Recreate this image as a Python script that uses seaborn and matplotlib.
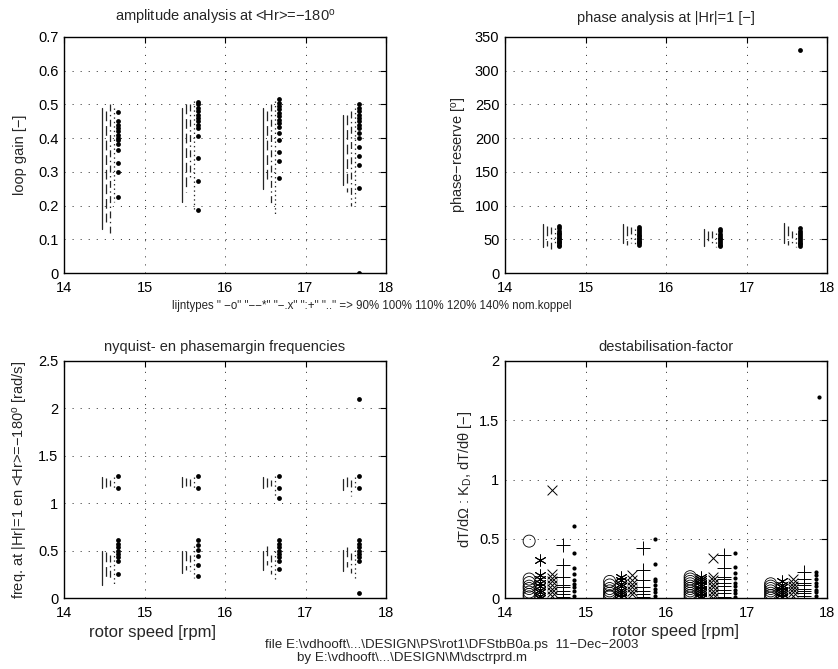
import matplotlib
matplotlib.use("Agg")
import matplotlib.pyplot as plt
import numpy as np
import pandas as pd
import seaborn as sns

# ---------------------------------------------------------------- data
speeds = [14.5, 15.5, 16.5, 17.5]                  # rotor speed groups [rpm]
torques = ["90%", "100%", "110%", "120%", "140%"]  # fraction of nominal torque

# loop gain at <Hr> = -180 deg, per torque level, per speed group
gain_090 = [[0.49, 0.45, 0.41, 0.36, 0.31, 0.26, 0.20, 0.13],
            [0.49, 0.45, 0.40, 0.35, 0.30, 0.26, 0.21],
            [0.49, 0.45, 0.41, 0.37, 0.33, 0.29, 0.25],
            [0.47, 0.43, 0.39, 0.35, 0.30, 0.26]]
gain_100 = [[0.48, 0.44, 0.40, 0.35, 0.30, 0.25, 0.20, 0.15],
            [0.50, 0.46, 0.41, 0.36, 0.31, 0.27, 0.24],
            [0.48, 0.44, 0.40, 0.36, 0.32, 0.27],
            [0.47, 0.43, 0.38, 0.33, 0.28, 0.24]]
gain_110 = [[0.50, 0.45, 0.40, 0.34, 0.28, 0.22, 0.16, 0.12],
            [0.50, 0.46, 0.42, 0.38, 0.33, 0.28],
            [0.50, 0.45, 0.40, 0.34, 0.28, 0.24, 0.20],
            [0.48, 0.43, 0.38, 0.32, 0.26, 0.20]]
gain_120 = [[0.49, 0.44, 0.39, 0.33, 0.27, 0.21],
            [0.51, 0.46, 0.41, 0.35, 0.29, 0.23, 0.18],
            [0.51, 0.46, 0.40, 0.34, 0.28, 0.22, 0.17],
            [0.49, 0.44, 0.38, 0.32, 0.26, 0.20]]
gain_140 = [[0.477, 0.45, 0.44, 0.43, 0.42, 0.41, 0.40, 0.395, 0.382, 0.365, 0.325, 0.30, 0.226],
            [0.508, 0.50, 0.49, 0.48, 0.47, 0.46, 0.45, 0.44, 0.43, 0.406, 0.342, 0.273, 0.187],
            [0.515, 0.505, 0.495, 0.485, 0.475, 0.465, 0.455, 0.445, 0.434, 0.416, 0.395, 0.36, 0.333, 0.281],
            [0.50, 0.49, 0.48, 0.47, 0.46, 0.45, 0.44, 0.43, 0.414, 0.40, 0.375, 0.348, 0.32, 0.253, 0.0]]

# phase reserve at |Hr| = 1 [deg]
phase_090 = [[72, 66, 60, 54, 48, 42, 38], [73, 67, 61, 55, 49, 44],
             [65, 60, 55, 50, 45, 40], [74, 68, 62, 56, 50, 44]]
phase_100 = [[70, 64, 58, 52, 46, 40], [70, 64, 58, 52, 46, 42],
             [62, 57, 52, 47, 42], [70, 64, 58, 52, 46, 42]]
phase_110 = [[68, 62, 56, 50, 44, 36], [68, 62, 56, 50, 44],
             [63, 58, 52, 46, 40], [62, 56, 50, 45, 40]]
phase_120 = [[66, 60, 54, 48, 42], [65, 59, 53, 47, 40],
             [60, 55, 50, 44, 38], [60, 55, 50, 44, 38]]
phase_140 = [[70, 66, 63, 60, 58, 55, 52, 50, 48, 46, 44, 42, 40],
             [68, 65, 62, 60, 57, 55, 52, 50, 48, 46, 44, 42],
             [65, 62, 58, 55, 52, 50, 48, 45, 42, 40],
             [66, 63, 60, 57, 54, 51, 48, 45, 43, 40, 330]]

# nyquist- and phase-margin frequencies [rad/s]: upper and lower band per group
nyq_090 = [[[1.28, 1.22, 1.16], [0.50, 0.40, 0.30, 0.20, 0.14]],
           [[1.28, 1.22, 1.17], [0.50, 0.42, 0.34, 0.26]],
           [[1.28, 1.22, 1.16], [0.50, 0.42, 0.36, 0.30]],
           [[1.26, 1.20, 1.14], [0.51, 0.42, 0.34, 0.28]]]
nyq_100 = [[[1.27, 1.21, 1.17], [0.48, 0.40, 0.32, 0.22]],
           [[1.27, 1.22, 1.18], [0.50, 0.42, 0.36, 0.30]],
           [[1.27, 1.22, 1.17], [0.55, 0.46, 0.40, 0.35]],
           [[1.28, 1.22, 1.17], [0.54, 0.45, 0.38, 0.33]]]
nyq_110 = [[[1.25, 1.20, 1.18], [0.45, 0.36, 0.28, 0.20]],
           [[1.26, 1.21, 1.18], [0.45, 0.38, 0.32, 0.28]],
           [[1.25, 1.20, 1.18], [0.45, 0.36, 0.30, 0.25]],
           [[1.25, 1.16, 1.08], [0.47, 0.38, 0.30, 0.26]]]
nyq_120 = [[[1.28, 1.22, 1.16], [0.50, 0.40, 0.28, 0.15]],
           [[1.28, 1.22, 1.16], [0.55, 0.44, 0.32, 0.21]],
           [[1.29, 1.20, 1.08], [0.50, 0.40, 0.30, 0.20]],
           [[1.28, 1.22, 1.15], [0.51, 0.40, 0.30, 0.20]]]
nyq_140 = [[[1.29, 1.165], [0.607, 0.569, 0.533, 0.498, 0.463, 0.428, 0.393, 0.256]],
           [[1.29, 1.165], [0.607, 0.555, 0.51, 0.44, 0.345, 0.236]],
           [[1.29, 1.165, 1.06], [0.607, 0.57, 0.535, 0.50, 0.46, 0.43, 0.39, 0.31]],
           [[2.10, 1.29, 1.165], [0.607, 0.57, 0.535, 0.50, 0.46, 0.43, 0.39, 0.053]]]

# destabilisation factor dT/dOmega : K_D, dT/dtheta [-]
destab_090 = [[0.48, 0.16, 0.13, 0.10, 0.08, 0.05, 0.03, 0.01],
              [0.14, 0.11, 0.08, 0.06, 0.04, 0.02, 0.01],
              [0.18, 0.16, 0.14, 0.12, 0.10, 0.08, 0.06, 0.04, 0.02, 0.0],
              [0.12, 0.10, 0.08, 0.06, 0.04, 0.02, 0.0]]
destab_100 = [[0.32, 0.19, 0.16, 0.13, 0.10, 0.07, 0.05, 0.02, 0.0],
              [0.18, 0.15, 0.12, 0.10, 0.07, 0.05, 0.03, 0.01],
              [0.18, 0.16, 0.14, 0.12, 0.10, 0.08, 0.06, 0.04, 0.02, 0.0],
              [0.14, 0.11, 0.09, 0.07, 0.05, 0.03, 0.01]]
destab_110 = [[0.91, 0.20, 0.17, 0.14, 0.11, 0.08, 0.05, 0.02],
              [0.19, 0.15, 0.12, 0.09, 0.06, 0.03],
              [0.34, 0.18, 0.15, 0.12, 0.09, 0.06, 0.03, 0.0],
              [0.16, 0.13, 0.10, 0.08, 0.05, 0.02]]
destab_120 = [[0.45, 0.28, 0.18, 0.11, 0.09, 0.06, 0.03, 0.01],
              [0.42, 0.24, 0.15, 0.09, 0.06, 0.03, 0.01],
              [0.36, 0.25, 0.18, 0.16, 0.13, 0.10, 0.07, 0.04, 0.01],
              [0.22, 0.16, 0.13, 0.11, 0.08, 0.06, 0.04, 0.02]]
destab_140 = [[0.61, 0.38, 0.25, 0.20, 0.15, 0.12, 0.09, 0.06, 0.02],
              [0.50, 0.29, 0.16, 0.14, 0.11, 0.08, 0.05, 0.02],
              [0.38, 0.26, 0.21, 0.17, 0.13, 0.10, 0.07, 0.04, 0.01],
              [0.22, 0.19, 0.16, 0.13, 0.10, 0.07, 0.05, 0.02]]
destab_peak_speed = [17.90]
destab_peak = [1.70]

# ---------------------------------------------------------------- style
sns.set_theme(style="white")
plt.rcParams["font.family"] = ["Liberation Sans", "DejaVu Sans"]
plt.rcParams["mathtext.fontset"] = "custom"
plt.rcParams["mathtext.rm"] = "Liberation Sans"
plt.rcParams["mathtext.it"] = "Liberation Sans:italic"
plt.rcParams["mathtext.default"] = "regular"
plt.rcParams["lines.scale_dashes"] = False
plt.rcParams["axes.unicode_minus"] = True

FS = 10.5
MINUS = "\u2212"
line_styles = ["-", (0, (7, 3.5)), (0, (5, 2.5, 1, 2.5)), (0, (1, 2.2)), None]
line_offsets = [-0.03, 0.02, 0.07, 0.12, 0.17]
marker_offsets = [-0.20, -0.06, 0.08, 0.22, 0.36]
GREY = "0.15"


def to_table(per_torque):
    """Long table: one row per value, with torque level, speed and line unit."""
    rows = []
    for k, (pct, per_speed) in enumerate(zip(torques, per_torque)):
        for g, (spd, vals) in enumerate(zip(speeds, per_speed)):
            bands = vals if isinstance(vals[0], list) else [vals]
            for b, band in enumerate(bands):
                for v in band:
                    rows.append(dict(torque=pct, k=k, speed=spd,
                                     unit=f"{g}-{b}", value=v))
    return pd.DataFrame(rows)


def style_axes(ax, ylim, yticks):
    ax.set_xlim(14, 18)
    ax.set_ylim(*ylim)
    ax.set_xticks([14, 15, 16, 17, 18])
    ax.set_yticks(yticks)
    ax.set_yticklabels([f"{t:g}" for t in yticks])
    ax.grid(True, color="0.25", linestyle=(0, (0.8, 5)), linewidth=0.7)
    ax.tick_params(direction="in", length=4, width=0.8, top=True, right=True,
                   labelsize=FS, colors="black")
    ax.tick_params(axis="x", pad=6)
    ax.tick_params(axis="y", pad=4)
    for sp in ax.spines.values():
        sp.set_color("black")
        sp.set_linewidth(1.0)
    ax.set_xlabel("")
    ax.set_ylabel("")


def line_panel(ax, per_torque):
    df = to_table(per_torque)
    df["x"] = df["speed"] + df["k"].map(dict(enumerate(line_offsets)))
    for k in range(4):
        sub = df[df["k"] == k]
        sns.lineplot(data=sub, x="x", y="value", units="unit", estimator=None,
                     sort=False, color=GREY, linewidth=0.9,
                     linestyle=line_styles[k], ax=ax)
    dots = df[df["k"] == 4]
    sns.scatterplot(data=dots, x="x", y="value", marker="o", s=12,
                    color="black", edgecolor="black", linewidth=0, ax=ax)


fig = plt.figure(figsize=(8.38, 6.69), dpi=100)
W, H = 838, 669


def add_axes(left, top, right, bottom):
    return fig.add_axes([left / W, 1 - bottom / H, (right - left) / W, (bottom - top) / H])


ax1 = add_axes(64, 37, 386, 273)
ax2 = add_axes(505, 37, 827, 273)
ax3 = add_axes(64, 361, 386, 598)
ax4 = add_axes(505, 361, 827, 598)

# amplitude
line_panel(ax1, [gain_090, gain_100, gain_110, gain_120, gain_140])
style_axes(ax1, (0, 0.7), [0, 0.1, 0.2, 0.3, 0.4, 0.5, 0.6, 0.7])
ax1.set_title(f"amplitude analysis at <Hr>={MINUS}180$^{{o}}$", fontsize=FS, pad=11)
ax1.set_ylabel(f"loop gain [{MINUS}]", fontsize=FS, labelpad=8)

# phase
line_panel(ax2, [phase_090, phase_100, phase_110, phase_120, phase_140])
style_axes(ax2, (0, 350), [0, 50, 100, 150, 200, 250, 300, 350])
ax2.set_title(f"phase analysis at |Hr|=1 [{MINUS}]", fontsize=FS, pad=11)
ax2.set_ylabel(f"phase{MINUS}reserve [$^{{o}}$]", fontsize=FS)

# nyquist frequencies
line_panel(ax3, [nyq_090, nyq_100, nyq_110, nyq_120, nyq_140])
style_axes(ax3, (0, 2.5), [0, 0.5, 1, 1.5, 2, 2.5])
ax3.set_title("nyquist- en phasemargin frequencies", fontsize=FS, pad=7)
ax3.set_ylabel(f"freq. at |Hr|=1 en <Hr>={MINUS}180$^{{o}}$ [rad/s]", fontsize=FS,
               labelpad=6)
ax3.set_xlabel("rotor speed [rpm]", fontsize=12)
ax3.xaxis.set_label_coords(0.275, -0.115)

# destabilisation factor (markers)
dd = to_table([destab_090, destab_100, destab_110, destab_120, destab_140])
dd["x"] = dd["speed"] + dd["k"].map(dict(enumerate(marker_offsets)))
mk = dict(
    k0=dict(marker="o", s=75, facecolors="none", edgecolor="black", linewidth=0.6),
    k1=dict(marker=(6, 2, 0), s=65, color="black", linewidth=0.7),
    k2=dict(marker="x", s=50, color="black", linewidth=0.7),
    k3=dict(marker="+", s=95, color="black", linewidth=0.7),
    k4=dict(marker="o", s=9, color="black", edgecolor="black", linewidth=0),
)
for k in range(5):
    sns.scatterplot(data=dd[dd["k"] == k], x="x", y="value", ax=ax4, **mk[f"k{k}"])
sns.scatterplot(x=destab_peak_speed, y=destab_peak, ax=ax4, **mk["k4"])
style_axes(ax4, (0, 2), [0, 0.5, 1, 1.5, 2])
ax4.set_title("destabilisation-factor", fontsize=FS, pad=7)
ax4.set_ylabel(f"dT/d\u03a9 : K$_D$, dT/d\u03b8 [{MINUS}]", fontsize=FS)
ax4.set_xlabel("rotor speed [rpm]", fontsize=12)
ax4.xaxis.set_label_coords(0.53, -0.11)

fig.text(172 / W, 1 - 306 / H,
         'lijntypes " \u2212o" "\u2212\u2212*" "\u2212.x" ":+" ".." => 90% 100% 110% 120% 140% nom.koppel',
         fontsize=8.3, ha="left", va="center")
fig.text(265 / W, 1 - 645 / H,
         f"file E:\\vdhooft\\...\\DESIGN\\PS\\rot1\\DFStbB0a.ps  11{MINUS}Dec{MINUS}2003",
         fontsize=9.6, ha="left", va="center")
fig.text(297 / W, 1 - 658 / H,
         "by E:\\vdhooft\\...\\DESIGN\\M\\dsctrprd.m",
         fontsize=9.6, ha="left", va="center")

fig.savefig("out.png", dpi=100)
